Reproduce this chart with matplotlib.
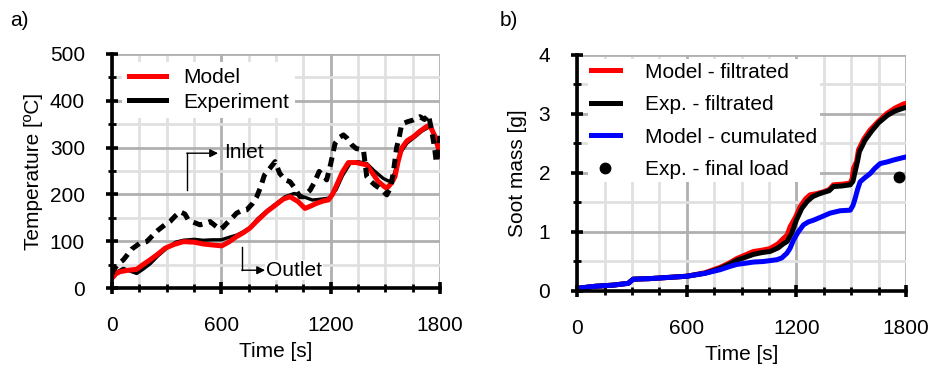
import matplotlib
matplotlib.use("Agg")
import matplotlib.pyplot as plt
from matplotlib.ticker import MultipleLocator

plt.rcParams['font.family'] = ['Liberation Sans', 'DejaVu Sans']

# ---------------- Panel a data ----------------
t_model_a = [0, 20, 44, 90, 135, 170, 208, 250, 291, 340, 391, 450, 501, 550, 602, 640, 684,
             720, 757, 800, 849, 900, 940, 977, 1020, 1059, 1090, 1123, 1160, 1187, 1210, 1233,
             1265, 1297, 1340, 1398, 1430, 1460, 1490, 1508, 1535, 1553, 1570, 1590, 1620, 1654,
             1690, 1727, 1745, 1773, 1790, 1800]
T_model_a = [21, 30, 35, 38, 40, 50, 60, 72, 85, 93, 99, 98, 94, 92, 90, 98, 110,
             118, 128, 145, 163, 178, 190, 195, 185, 170, 175, 181, 186, 188, 200, 220,
             248, 268, 268, 263, 245, 228, 218, 213, 225, 238, 270, 299, 315, 323,
             335, 345, 348, 323, 300, 282]

t_exp_out = [0, 30, 62, 100, 135, 170, 210, 250, 300, 350, 391, 450, 500, 550, 600, 640, 684,
             720, 760, 800, 850, 900, 950, 1000, 1050, 1100, 1150, 1190, 1230, 1265, 1306,
             1350, 1398, 1440, 1489, 1526, 1550, 1581, 1620, 1660, 1700, 1745, 1775, 1800]
T_exp_out = [28, 35, 42, 36, 31, 40, 52, 68, 85, 98, 102, 104, 102, 103, 103, 108, 113,
             120, 130, 148, 165, 180, 195, 202, 195, 188, 190, 192, 210, 240, 266,
             270, 266, 250, 234, 227, 245, 288, 310, 322, 335, 345, 325, 288]

t_exp_in = [0, 7, 30, 62, 108, 150, 190, 230, 254, 290, 318, 350, 373, 400, 419, 450, 483, 510,
            538, 570, 593, 610, 629, 660, 684, 710, 739, 770, 794, 815, 836, 865, 895, 920,
            950, 977, 1000, 1032, 1050, 1087, 1110, 1137, 1160, 1178, 1200, 1224, 1250, 1270,
            1290, 1316, 1340, 1380, 1398, 1420, 1443, 1480, 1508, 1530, 1545, 1562, 1575, 1590,
            1620, 1654, 1690, 1715, 1737, 1755, 1770, 1780, 1790, 1800]
T_exp_in = [30, 38, 50, 60, 83, 95, 99, 115, 124, 135, 142, 155, 163, 158, 145, 140, 135, 138,
            142, 132, 125, 130, 138, 150, 160, 165, 167, 180, 195, 215, 241, 255, 270, 245,
            231, 227, 215, 195, 195, 209, 225, 249, 240, 231, 265, 309, 322, 327,
            320, 306, 298, 295, 238, 228, 220, 210, 199, 215, 250, 300, 320, 350,
            355, 359, 366, 360, 370, 335, 300, 268, 290, 325]

# ---------------- Panel b data ----------------
t_model_filt = [0, 15, 100, 200, 280, 307, 400, 500, 600, 700, 782, 830, 874, 920, 965, 1010,
                1056, 1100, 1129, 1150, 1166, 1195, 1221, 1250, 1275, 1310, 1348, 1380, 1403,
                1450, 1495, 1505, 1513, 1530, 1540, 1570, 1604, 1650, 1696, 1740, 1787, 1800]
m_model_filt = [0.02, 0.05, 0.08, 0.10, 0.13, 0.20, 0.21, 0.23, 0.25, 0.31, 0.40, 0.47, 0.55,
                0.61, 0.67, 0.69, 0.72, 0.80, 0.89, 0.95, 1.09, 1.25, 1.43, 1.56, 1.63, 1.65,
                1.68, 1.72, 1.80, 1.81, 1.83, 1.90, 2.08, 2.20, 2.39, 2.58, 2.73, 2.88, 3.01,
                3.10, 3.17, 3.18]

t_exp_filt = [0, 15, 100, 200, 280, 307, 400, 500, 600, 700, 782, 830, 874, 920, 965, 1010,
              1056, 1100, 1129, 1150, 1175, 1200, 1230, 1260, 1290, 1320, 1348, 1380, 1403,
              1450, 1495, 1510, 1520, 1535, 1545, 1575, 1610, 1650, 1700, 1740, 1787, 1800]
m_exp_filt = [0.02, 0.05, 0.08, 0.10, 0.13, 0.20, 0.21, 0.23, 0.25, 0.30, 0.38, 0.45, 0.52,
              0.57, 0.62, 0.65, 0.67, 0.73, 0.80, 0.84, 0.98, 1.20, 1.40, 1.52, 1.60, 1.64,
              1.67, 1.70, 1.77, 1.78, 1.80, 1.86, 2.00, 2.20, 2.36, 2.55, 2.70, 2.85, 2.98,
              3.05, 3.10, 3.11]

t_model_cum = [0, 15, 100, 200, 280, 307, 400, 500, 600, 700, 782, 830, 874, 920, 965, 1020,
               1093, 1120, 1148, 1165, 1184, 1210, 1239, 1265, 1294, 1340, 1385, 1440, 1495,
               1510, 1522, 1535, 1549, 1575, 1604, 1630, 1659, 1700, 1732, 1770, 1797, 1800]
m_model_cum = [0.02, 0.05, 0.08, 0.10, 0.13, 0.20, 0.21, 0.23, 0.25, 0.30, 0.36, 0.41, 0.45,
               0.47, 0.49, 0.50, 0.53, 0.56, 0.64, 0.72, 0.86, 1.00, 1.12, 1.17, 1.20, 1.26,
               1.32, 1.36, 1.37, 1.45, 1.57, 1.72, 1.85, 1.92, 1.99, 2.08, 2.16, 2.19, 2.22,
               2.25, 2.27, 2.27]

t_final = [1760]
m_final = [1.93]

fig = plt.figure(figsize=(9.29, 3.69), dpi=100)
ax1 = fig.add_axes([0.1206, 0.2195, 0.3530, 0.6342])
ax2 = fig.add_axes([0.6212, 0.2114, 0.3540, 0.6396])

FS = 15

def style(ax, xmaj, xmin, ymaj, ymin, xlim, ylim):
    ax.set_xlim(*xlim)
    ax.set_ylim(*ylim)
    ax.xaxis.set_major_locator(MultipleLocator(xmaj))
    ax.xaxis.set_minor_locator(MultipleLocator(xmin))
    ax.yaxis.set_major_locator(MultipleLocator(ymaj))
    ax.yaxis.set_minor_locator(MultipleLocator(ymin))
    ax.grid(which='major', color='#b0b0b0', lw=2.0, zorder=0)
    ax.grid(which='minor', color='#e0e0e0', lw=2.0, zorder=0)
    ax.set_axisbelow(True)
    for s in ['top', 'right']:
        ax.spines[s].set_visible(False)
    for s in ['left', 'bottom']:
        ax.spines[s].set_linewidth(2.6)
        ax.spines[s].set_zorder(5)
    ax.tick_params(which='major', direction='inout', length=9, width=2.6,
                   labelsize=FS)
    ax.tick_params(which='minor', direction='inout', length=6, width=2.0)
    ax.tick_params(axis='y', which='major', pad=15)
    ax.tick_params(axis='x', which='major', pad=16)

style(ax1, 600, 150, 100, 50, (0, 1800), (0, 500))
style(ax2, 600, 150, 1, 0.5, (0, 1800), (0, 4))

# Panel a
ax1.plot(t_exp_out, T_exp_out, color='black', lw=2.4, zorder=3)
ax1.plot(t_model_a, T_model_a, color='#ff0000', lw=3.6, zorder=4, label='Model')
ax1.plot(t_exp_out, T_exp_out, color='black', lw=1.0, zorder=3.5)
ax1.plot(t_exp_in, T_exp_in, color='black', lw=3.6, ls=(0, (1.9, 1.3)), zorder=5)
ax1.plot([], [], color='black', lw=3.6, label='Experiment')
h, l = ax1.get_legend_handles_labels()
leg1 = ax1.legend(h, l, loc='upper left', bbox_to_anchor=(0.0, 1.01), fontsize=FS,
                  frameon=True, fancybox=False, edgecolor='none', facecolor='white',
                  framealpha=1, handlelength=1.8, handletextpad=0.8, borderpad=0.3,
                  labelspacing=0.25)
leg1.set_zorder(6)

ax1.annotate('', xy=(582, 288), xytext=(410, 288),
             arrowprops=dict(arrowstyle='-|>', color='black', lw=1.0,
                             mutation_scale=12, shrinkA=0, shrinkB=0), zorder=7)
ax1.plot([410, 410], [209, 288], color='black', lw=1.0, zorder=7)
ax1.text(615, 289, 'Inlet', fontsize=FS, va='center', ha='left', zorder=7)
ax1.annotate('', xy=(840, 38), xytext=(712, 38),
             arrowprops=dict(arrowstyle='-|>', color='black', lw=1.0,
                             mutation_scale=12, shrinkA=0, shrinkB=0), zorder=7)
ax1.plot([712, 712], [88, 38], color='black', lw=1.0, zorder=7)
ax1.text(845, 38, 'Outlet', fontsize=FS, va='center', ha='left', zorder=7,
         bbox=dict(facecolor='white', edgecolor='none', pad=0.5))

ax1.set_xlabel('Time [s]', fontsize=FS, labelpad=5)
ax1.set_ylabel('Temperature [ºC]', fontsize=FS, labelpad=5)

# Panel b
ax2.plot(t_model_filt, m_model_filt, color='#ff0000', lw=3.6, zorder=3, label='Model - filtrated')
ax2.plot(t_exp_filt, m_exp_filt, color='black', lw=3.6, zorder=4, label='Exp. - filtrated')
ax2.plot(t_model_cum, m_model_cum, color='#0000ff', lw=3.6, zorder=4.5, label='Model - cumulated')
ax2.plot(t_final, m_final, 'o', color='black', ms=7.5, zorder=5, label='Exp. - final load')
leg2 = ax2.legend(loc='upper left', bbox_to_anchor=(0.0, 1.025), fontsize=FS,
                  frameon=True, fancybox=False, edgecolor='none', facecolor='white',
                  framealpha=1, handlelength=1.4, handletextpad=1.2, borderpad=0.15,
                  labelspacing=0.65)
leg2.set_zorder(6)

ax2.set_xlabel('Time [s]', fontsize=FS, labelpad=5)
ax2.set_ylabel('Soot mass [g]', fontsize=FS, labelpad=8)

fig.text(0.011, 0.945, 'a)', fontsize=FS, ha='left', va='center')
fig.text(0.538, 0.945, 'b)', fontsize=FS, ha='left', va='center')

fig.savefig('out.png', dpi=100)
